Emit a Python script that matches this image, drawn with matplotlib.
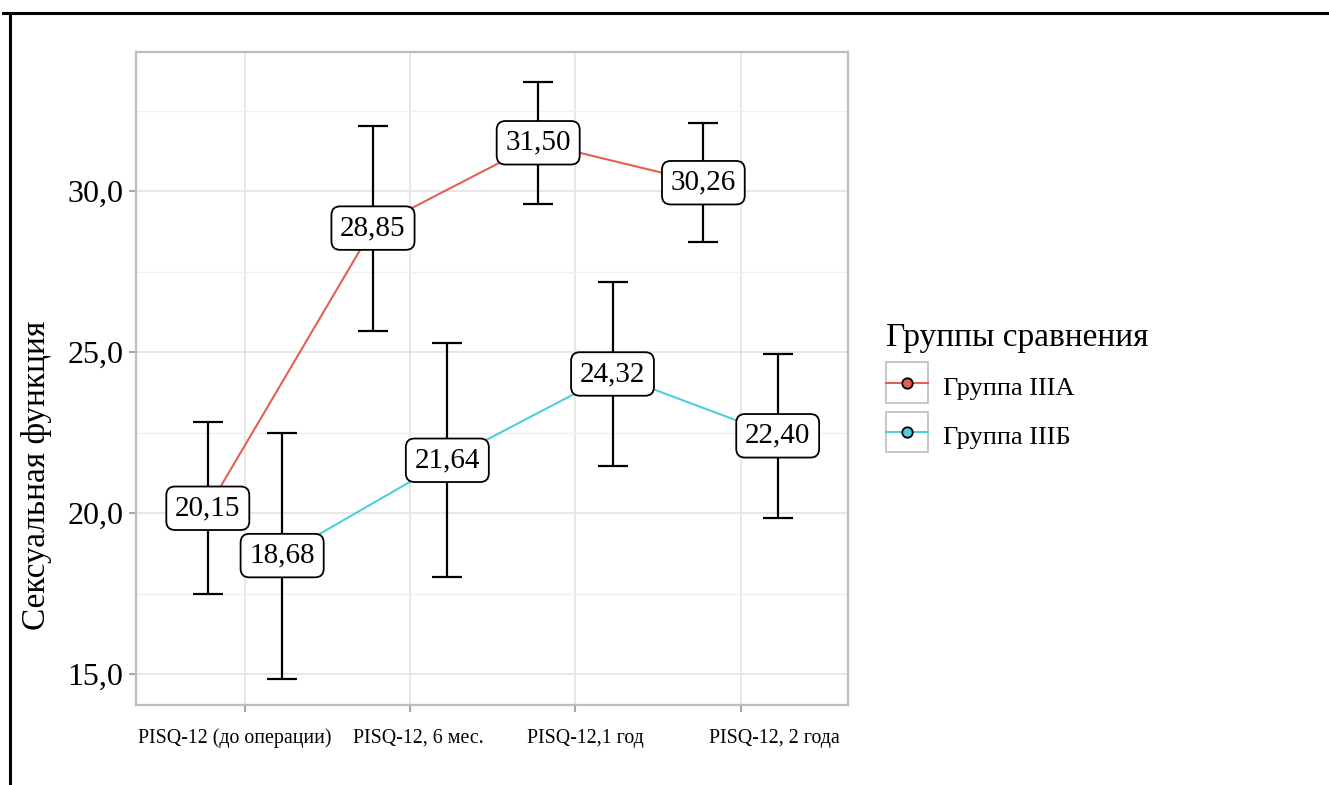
import numpy as np
import matplotlib
matplotlib.use('Agg')
import matplotlib.pyplot as plt
from matplotlib.lines import Line2D
from matplotlib.patches import Rectangle
from matplotlib.legend_handler import HandlerLine2D
from matplotlib.ticker import FuncFormatter, MultipleLocator

plt.rcParams['font.family'] = ['Liberation Serif', 'DejaVu Serif']

# data
cats = ['PISQ-12 (до операции)', 'PISQ-12, 6 мес.', 'PISQ-12,1 год', 'PISQ-12, 2 года']
mean_a = [20.15, 28.85, 31.50, 30.26]
err_a = [2.67, 3.18, 1.90, 1.85]
mean_b = [18.68, 21.64, 24.32, 22.40]
err_b = [3.82, 3.63, 2.85, 2.55]
groups = ['Группа IIIА', 'Группа IIIБ']
colors = ['#E26054', '#4ECFD9']


class BoxedHandler(HandlerLine2D):
    # legend key with a grey square around it, ggplot style
    def __init__(self, box_h=1.5, **kw):
        super().__init__(**kw)
        self.box_h = box_h

    def create_artists(self, legend, orig_handle, xdescent, ydescent,
                       width, height, fontsize, trans):
        arts = super().create_artists(legend, orig_handle, xdescent, ydescent,
                                      width, height, fontsize, trans)
        yc = (height - ydescent) / 2
        h = self.box_h * fontsize
        box = Rectangle((-xdescent, yc - h / 2), width, h, facecolor='white',
                        edgecolor='#BDBDBD', lw=1.2, transform=trans)
        return [box] + arts


fig = plt.figure(figsize=(13.29, 7.85), dpi=100)
ax = fig.add_axes([0.1023, 0.1019, 0.5357, 0.8319])

x = np.arange(1, len(cats) + 1)
dodge = 0.225
series = [(mean_a, err_a), (mean_b, err_b)]
handles = []
for k, (m, e) in enumerate(series):
    xs = x + (-dodge if k == 0 else dodge)
    ax.plot(xs, m, color=colors[k], lw=1.5, zorder=2)
    ax.errorbar(xs, m, yerr=e, fmt='none', ecolor='black', elinewidth=1.6,
                capsize=11, capthick=1.6, zorder=3)
    ax.scatter(xs, m, s=40, color=colors[k], edgecolor='black', lw=1.2, zorder=4)
    for xi, yi in zip(xs, m):
        ax.text(xi, yi, f'{yi:.2f}'.replace('.', ','), ha='center', va='center',
                fontsize=21, zorder=6,
                bbox=dict(boxstyle='round,pad=0.3,rounding_size=0.3', fc='white',
                          ec='black', lw=1.3))
    handles.append(Line2D([], [], color=colors[k], lw=1.5, marker='o', markersize=7.5,
                          markerfacecolor=colors[k], markeredgecolor='black',
                          markeredgewidth=1.3))

ax.set_xlim(1 - 0.66, len(cats) + 0.65)
ax.set_ylim(14.04, 34.32)
# tick marks on the categories, labels sit a little off them in the picture
label_shift = np.array([-0.06, 0.05, 0.06, 0.205])
ax.set_xticks(x)
ax.set_xticklabels([])
ax.set_xticks(x + label_shift, minor=True)
ax.set_xticklabels(cats, minor=True, fontsize=14.3)
ax.yaxis.set_major_locator(MultipleLocator(5))
ax.yaxis.set_minor_locator(MultipleLocator(2.5))
ax.yaxis.set_major_formatter(FuncFormatter(lambda v, p: f'{v:.1f}'.replace('.', ',')))
ax.tick_params(axis='y', labelsize=23, length=5, width=1.5, color='#A8A8A8', pad=4)
ax.tick_params(axis='x', length=5, width=1.5, color='#A8A8A8')
ax.tick_params(axis='x', which='minor', length=0, pad=17)
ax.tick_params(axis='y', which='minor', length=0)
ax.grid(True, which='major', color='#E3E3E3', lw=1.2, zorder=0)
ax.grid(True, which='minor', axis='y', color='#F0F0F0', lw=1.0, zorder=0)
ax.set_axisbelow(True)
for s in ax.spines.values():
    s.set_color('#BDBDBD')
    s.set_linewidth(1.6)
ax.set_ylabel('Сексуальная функция', fontsize=24)
ax.yaxis.set_label_coords(-0.118, 0.351)

leg = fig.legend(handles, groups, loc='upper left', bbox_to_anchor=(0.667, 0.589),
                 frameon=False, fontsize=19, title='Группы сравнения',
                 title_fontsize=24, alignment='left', handlelength=1.59,
                 handleheight=1.52, labelspacing=0.64, handletextpad=0.57,
                 borderpad=0, borderaxespad=0,
                 handler_map={Line2D: BoxedHandler(box_h=1.52)})

# black frame lines at the top and left of the image
fig.add_artist(Line2D([0.002, 1.0], [0.984, 0.984], color='black', lw=2.2,
                      transform=fig.transFigure))
fig.add_artist(Line2D([0.0075, 0.0075], [0.0, 0.984], color='black', lw=2.2,
                      transform=fig.transFigure))

plt.savefig('out.png', dpi=100)
